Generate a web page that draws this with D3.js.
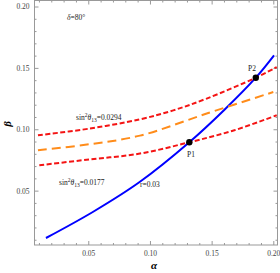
<!DOCTYPE html>
<html>
<head>
<meta charset="utf-8">
<script src="https://cdn.jsdelivr.net/npm/d3@7"></script>
<style>
  body { margin: 0; background: #fff; }
  svg { display: block; }
  .tk text { font-family: "Liberation Serif", serif; font-size: 7.5px; fill: #444; }
  .note { font-family: "Liberation Serif", serif; font-size: 7.5px; fill: #222; }
</style>
</head>
<body>
<svg id="chart" width="280" height="273"></svg>
<script>
// curves: [alpha, beta]
var rLine = [[0.0157,0.0114],[0.054,0.0328],[0.0919,0.0572],[0.1319,0.0894],[0.16,0.1155],[0.1858,0.142],[0.2006,0.1602]];
var upperS13 = [[0.0092,0.0951],[0.0514,0.1006],[0.0919,0.1081],[0.1189,0.1154],[0.146,0.125],[0.1858,0.142],[0.2028,0.1507]];
var midS13 = [[0.0092,0.0829],[0.051,0.0878],[0.0919,0.0948],[0.146,0.1128],[0.2,0.1303]];
var lowerS13 = [[0.0103,0.0707],[0.051,0.0754],[0.0919,0.0802],[0.1319,0.0894],[0.1684,0.0992],[0.2028,0.1114]];
var points = [{name:"P1", a:0.1319, b:0.0894}, {name:"P2", a:0.1858, b:0.142}];
var majorTicks = [0.05, 0.10, 0.15, 0.20];
var minorTicks = d3.range(1, 21).map(function(d){ return d/100; });

var svg = d3.select("#chart");

var fLeft = 34.5, fRight = 277.5, fTop = 0.5, fBottom = 245;

var x = d3.scaleLinear().domain([0.0064, 0.2034]).range([fLeft, fRight]);
var y = d3.scaleLinear().domain([0.0057, 0.2049]).range([fBottom, fTop]);

var xMinor = minorTicks.filter(d => d > x.domain()[0] && d < x.domain()[1] && majorTicks.indexOf(d) < 0);
var yMinor = minorTicks.filter(d => d > y.domain()[0] && d < y.domain()[1] && majorTicks.indexOf(d) < 0);

// frame
svg.append("rect")
  .attr("x", fLeft).attr("y", fTop)
  .attr("width", fRight-fLeft).attr("height", fBottom-fTop)
  .attr("fill", "none").attr("stroke", "#999").attr("stroke-width", 1);

function ticks(axis, vals, size, labels){
  return axis.tickValues(vals).tickSizeInner(size).tickSizeOuter(0)
    .tickFormat(labels ? d3.format(".2f") : "");
}

// minor ticks, then major ticks (inward); labels only bottom and left
svg.append("g").attr("class","tk").attr("transform","translate(0,"+fBottom+")").call(ticks(d3.axisBottom(x), xMinor, -2, false));
var xAxisG = svg.append("g").attr("class","tk").attr("transform","translate(0,"+fBottom+")").call(ticks(d3.axisBottom(x), majorTicks, -4, true));
svg.append("g").attr("class","tk").attr("transform","translate(0,"+fTop+")").call(ticks(d3.axisTop(x), xMinor, -2, false));
svg.append("g").attr("class","tk").attr("transform","translate(0,"+fTop+")").call(ticks(d3.axisTop(x), majorTicks, -4, false));

svg.append("g").attr("class","tk").attr("transform","translate("+fLeft+",0)").call(ticks(d3.axisLeft(y), yMinor, -2, false));
var yAxisG = svg.append("g").attr("class","tk").attr("transform","translate("+fLeft+",0)").call(ticks(d3.axisLeft(y), majorTicks, -4, true));
svg.append("g").attr("class","tk").attr("transform","translate("+fRight+",0)").call(ticks(d3.axisRight(y), yMinor, -2, false));
svg.append("g").attr("class","tk").attr("transform","translate("+fRight+",0)").call(ticks(d3.axisRight(y), majorTicks, -4, false));

svg.selectAll(".tk .domain").remove();
svg.selectAll(".tk line").attr("stroke", "#999");
xAxisG.selectAll("text").attr("y", 6);
yAxisG.selectAll("text").attr("x", -5);

// curves
var line = d3.line().x(d => x(d[0])).y(d => y(d[1])).curve(d3.curveCatmullRom);

svg.append("path").datum(rLine).attr("d", line)
  .attr("fill","none").attr("stroke","#0000ff").attr("stroke-width",2);
svg.append("path").datum(upperS13).attr("d", line)
  .attr("fill","none").attr("stroke","#f41414").attr("stroke-width",2).attr("stroke-dasharray","5,2.5");
svg.append("path").datum(lowerS13).attr("d", line)
  .attr("fill","none").attr("stroke","#f41414").attr("stroke-width",2).attr("stroke-dasharray","5,2.5");
svg.append("path").datum(midS13).attr("d", line)
  .attr("fill","none").attr("stroke","#ff8c1a").attr("stroke-width",2).attr("stroke-dasharray","9,5");

svg.selectAll(".pt").data(points).enter().append("circle")
  .attr("class","pt")
  .attr("cx", d => x(d.a)).attr("cy", d => y(d.b)).attr("r", 3.2)
  .attr("fill","#000");

// annotations
svg.append("text").attr("class","note").attr("x",187).attr("y",157).text("P1");
svg.append("text").attr("class","note").attr("x",248).attr("y",71).text("P2");
svg.append("text").attr("class","note").attr("x",140).attr("y",187).text("r=0.03");

var t1 = svg.append("text").attr("class","note").attr("x",76).attr("y",120);
t1.append("tspan").text("sin");
t1.append("tspan").attr("dy",-3).attr("font-size","5.5px").text("2");
t1.append("tspan").attr("dy",3).attr("font-style","italic").text("θ");
t1.append("tspan").attr("dy",1.5).attr("font-size","5.5px").text("13");
t1.append("tspan").attr("dy",-1.5).text("=0.0294");

var t2 = svg.append("text").attr("class","note").attr("x",59).attr("y",185);
t2.append("tspan").text("sin");
t2.append("tspan").attr("dy",-3).attr("font-size","5.5px").text("2");
t2.append("tspan").attr("dy",3).attr("font-style","italic").text("θ");
t2.append("tspan").attr("dy",1.5).attr("font-size","5.5px").text("13");
t2.append("tspan").attr("dy",-1.5).text("=0.0177");

var t3 = svg.append("text").attr("class","note").attr("x",67).attr("y",20);
t3.append("tspan").attr("font-style","italic").text("δ");
t3.append("tspan").text("=80°");

// axis titles
svg.append("text").attr("x",154).attr("y",269)
  .attr("text-anchor","middle")
  .style("font-family","Liberation Serif, serif").style("font-size","11px")
  .style("font-style","italic").style("font-weight","bold").text("α");
svg.append("text").attr("transform","translate(11,124) rotate(-90)")
  .attr("text-anchor","middle")
  .style("font-family","Liberation Serif, serif").style("font-size","11px")
  .style("font-style","italic").style("font-weight","bold").text("β");
</script>
</body>
</html>
